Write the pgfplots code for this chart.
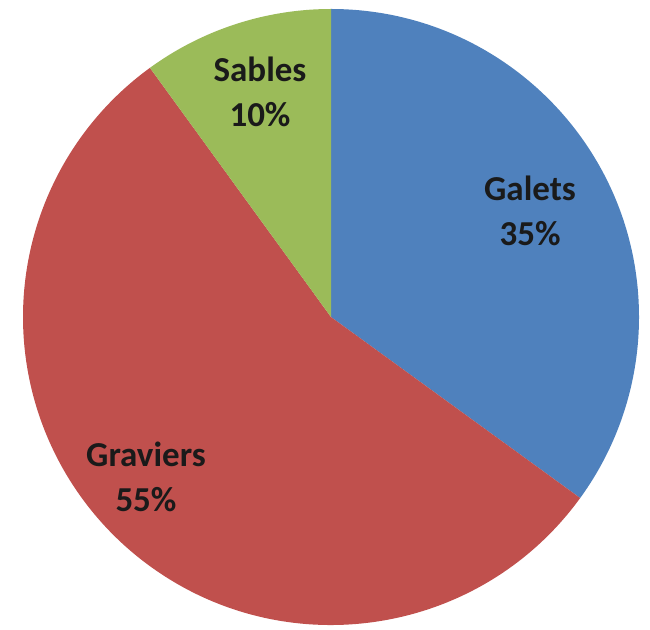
\documentclass[border=0pt]{standalone}
\usepackage{pgfplots}
\pgfplotsset{compat=1.18}
\usepackage{fontspec}
\setmainfont{Carlito}
\definecolor{galets}{HTML}{4F81BD}
\definecolor{graviers}{HTML}{C0504D}
\definecolor{sables}{HTML}{9BBB59}
\definecolor{txt}{HTML}{1A1A1A}
% data (percent)
\def\vGalets{35}
\def\vGraviers{55}
\def\vSables{10}
\begin{document}
\begin{tikzpicture}
\pgfmathsetmacro{\aA}{90}
\pgfmathsetmacro{\aB}{90-3.6*\vGalets}
\pgfmathsetmacro{\aC}{\aB-3.6*\vGraviers}
\pgfmathsetmacro{\aD}{\aC-3.6*\vSables}
\begin{axis}[
  scale only axis, width=650pt, height=629pt,
  xmin=0, xmax=650, ymin=0, ymax=629,
  hide axis, clip=false,
]
\coordinate (bl) at (rel axis cs:0,0);
\coordinate (tr) at (rel axis cs:1,1);
\fill[galets] (axis cs:331,312) -- ++(\aA:308pt) arc[start angle=\aA, end angle=\aB, radius=308pt] -- cycle;
\fill[graviers] (axis cs:331,312) -- ++(\aB:308pt) arc[start angle=\aB, end angle=\aC, radius=308pt] -- cycle;
\fill[sables] (axis cs:331,312) -- ++(\aC:308pt) arc[start angle=\aC, end angle=\aD, radius=308pt] -- cycle;
\node[align=center, font=\fontsize{35}{45}\selectfont\bfseries, text=txt] at (axis cs:530,418) {Galets\\\vGalets\%};
\node[align=center, font=\fontsize{35}{45}\selectfont\bfseries, text=txt] at (axis cs:146,152) {Graviers\\\vGraviers\%};
\node[align=center, font=\fontsize{35}{45}\selectfont\bfseries, text=txt] at (axis cs:260,537) {Sables\\\vSables\%};
\end{axis}
\pgfresetboundingbox
\path[use as bounding box] (bl) rectangle (tr);
\end{tikzpicture}
\end{document}
